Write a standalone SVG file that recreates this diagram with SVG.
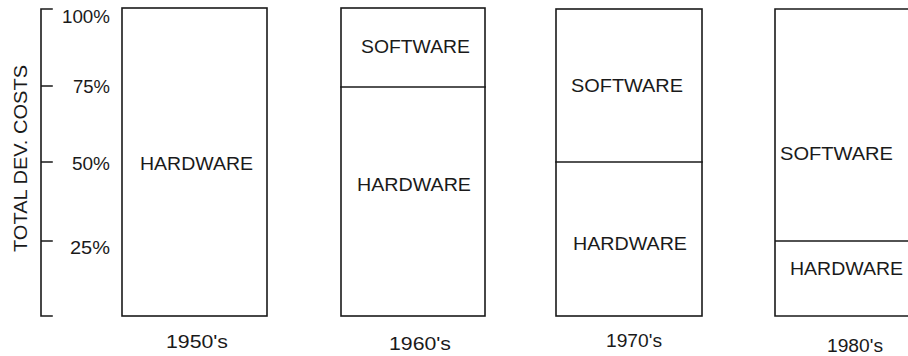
<svg xmlns="http://www.w3.org/2000/svg" width="908" height="356" viewBox="0 0 908 356">
<style>
.ln{fill:none;stroke:#1a1a1a;stroke-width:1.6;stroke-linecap:square}
.t{font-family:"Liberation Sans",Arial,sans-serif;font-size:18px;fill:#1a1a1a}
.m{text-anchor:middle}
.r{text-anchor:end}
</style>
<rect width="908" height="356" fill="#fff"/>
<g id="axis">
<path class="ln" d="M52,9 H41 V316 H52 M41,86 H52 M41,162 H52 M41,241 H52"/>
<text class="t r" x="110" y="23" textLength="48" lengthAdjust="spacingAndGlyphs">100%</text>
<text class="t r" x="110" y="93" textLength="37" lengthAdjust="spacingAndGlyphs">75%</text>
<text class="t r" x="110" y="170" textLength="38" lengthAdjust="spacingAndGlyphs">50%</text>
<text class="t r" x="110" y="254" textLength="40" lengthAdjust="spacingAndGlyphs">25%</text>
<text class="t m" transform="translate(27,158.5) rotate(-90)" textLength="187" lengthAdjust="spacingAndGlyphs">TOTAL DEV. COSTS</text>
</g>
<g id="bar-1950s">
<rect class="ln" x="122" y="8" width="145" height="308"/>
<text class="t m" x="196.5" y="170" textLength="113" lengthAdjust="spacingAndGlyphs">HARDWARE</text>
<text class="t m" x="197" y="348" textLength="62" lengthAdjust="spacingAndGlyphs">1950's</text>
</g>
<g id="bar-1960s">
<rect class="ln" x="341" y="8" width="144" height="308"/>
<path class="ln" d="M341,87 H485"/>
<text class="t m" x="415.5" y="53" textLength="109" lengthAdjust="spacingAndGlyphs">SOFTWARE</text>
<text class="t m" x="414" y="191" textLength="114" lengthAdjust="spacingAndGlyphs">HARDWARE</text>
<text class="t m" x="420" y="350" textLength="62" lengthAdjust="spacingAndGlyphs">1960's</text>
</g>
<g id="bar-1970s">
<rect class="ln" x="556" y="9" width="146" height="307"/>
<path class="ln" d="M556,162 H702"/>
<text class="t m" x="627" y="92" textLength="112" lengthAdjust="spacingAndGlyphs">SOFTWARE</text>
<text class="t m" x="630" y="250" textLength="114" lengthAdjust="spacingAndGlyphs">HARDWARE</text>
<text class="t m" x="634" y="347" textLength="56" lengthAdjust="spacingAndGlyphs">1970's</text>
</g>
<g id="bar-1980s">
<path class="ln" d="M920,9 H775 V316 H920 M775,241 H920"/>
<text class="t m" x="836.5" y="160" textLength="113" lengthAdjust="spacingAndGlyphs">SOFTWARE</text>
<text class="t m" x="846.5" y="275" textLength="113" lengthAdjust="spacingAndGlyphs">HARDWARE</text>
<text class="t m" x="855" y="352" textLength="56" lengthAdjust="spacingAndGlyphs">1980's</text>
</g>
</svg>
